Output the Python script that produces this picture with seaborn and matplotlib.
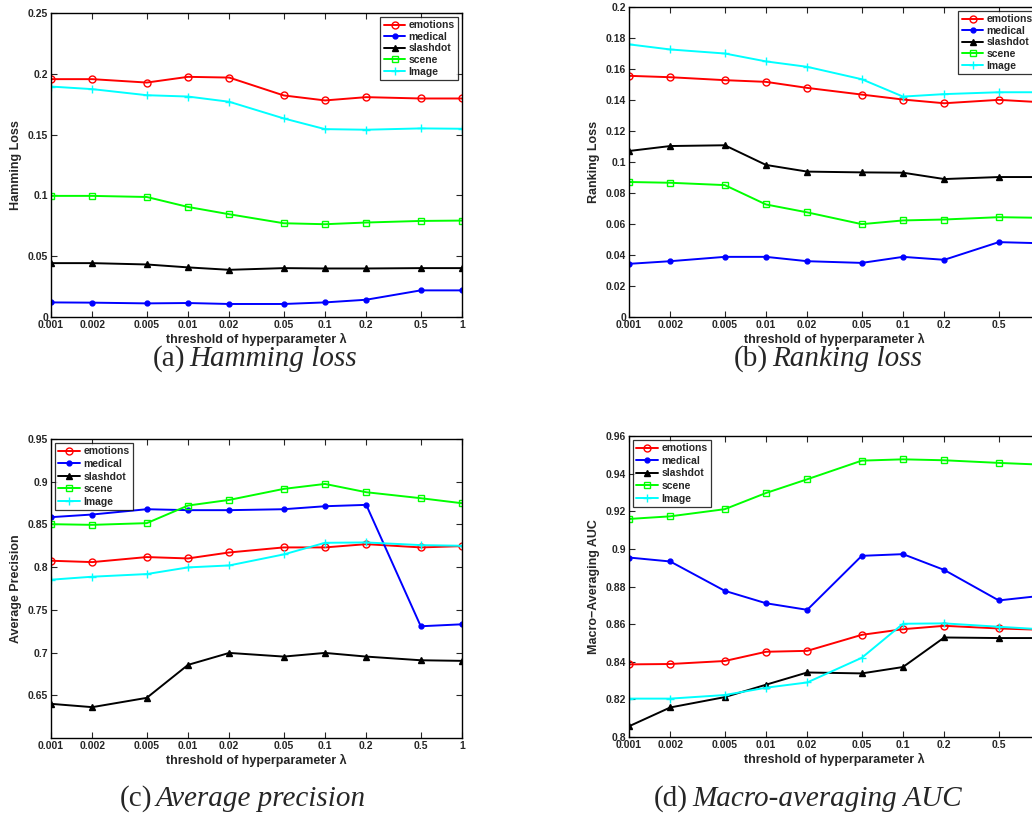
import numpy as np
import pandas as pd
import seaborn as sns
import matplotlib.pyplot as plt

lambdas = [0.001, 0.002, 0.005, 0.01, 0.02, 0.05, 0.1, 0.2, 0.5, 1.0]
tick_labels = ['0.001', '0.002', '0.005', '0.01', '0.02', '0.05', '0.1', '0.2', '0.5', '1']
datasets = ['emotions', 'medical', 'slashdot', 'scene', 'Image']

hamming_emotions = [0.1956, 0.1956, 0.1928, 0.1975, 0.1969, 0.1822, 0.1781, 0.1808, 0.1797, 0.1797]
hamming_medical = [0.0120, 0.0118, 0.0112, 0.0115, 0.0107, 0.0107, 0.0120, 0.0142, 0.0219, 0.0219]
hamming_slashdot = [0.0443, 0.0443, 0.0432, 0.0408, 0.0388, 0.0402, 0.0399, 0.0399, 0.0402, 0.0402]
hamming_scene = [0.0996, 0.0996, 0.0987, 0.0905, 0.0845, 0.0771, 0.0763, 0.0777, 0.0790, 0.0793]
hamming_image = [0.1895, 0.1874, 0.1824, 0.1813, 0.1770, 0.1633, 0.1545, 0.1540, 0.1551, 0.1548]

ranking_emotions = [0.1556, 0.1547, 0.1528, 0.1517, 0.1478, 0.1435, 0.1403, 0.1379, 0.1401, 0.1386]
ranking_medical = [0.0343, 0.0360, 0.0388, 0.0388, 0.0360, 0.0349, 0.0388, 0.0369, 0.0483, 0.0476]
ranking_slashdot = [0.1071, 0.1103, 0.1108, 0.0981, 0.0938, 0.0933, 0.0931, 0.0890, 0.0903, 0.0903]
ranking_scene = [0.0871, 0.0866, 0.0851, 0.0726, 0.0675, 0.0599, 0.0623, 0.0629, 0.0644, 0.0640]
ranking_image = [0.1759, 0.1726, 0.1700, 0.1649, 0.1614, 0.1534, 0.1422, 0.1438, 0.1450, 0.1450]

avgprec_emotions = [0.8075, 0.8059, 0.8118, 0.8102, 0.8172, 0.8231, 0.8231, 0.8269, 0.8231, 0.8246]
avgprec_medical = [0.8585, 0.8616, 0.8678, 0.8667, 0.8667, 0.8678, 0.8713, 0.8729, 0.7308, 0.7331]
avgprec_slashdot = [0.6400, 0.6361, 0.6470, 0.6856, 0.6996, 0.6953, 0.6996, 0.6953, 0.6910, 0.6903]
avgprec_scene = [0.8503, 0.8495, 0.8515, 0.8721, 0.8787, 0.8916, 0.8974, 0.8877, 0.8807, 0.8748]
avgprec_image = [0.7853, 0.7888, 0.7919, 0.7997, 0.8020, 0.8149, 0.8285, 0.8289, 0.8258, 0.8250]

auc_emotions = [0.8386, 0.8388, 0.8404, 0.8453, 0.8458, 0.8543, 0.8573, 0.8591, 0.8577, 0.8570]
auc_medical = [0.8954, 0.8933, 0.8777, 0.8711, 0.8676, 0.8963, 0.8972, 0.8888, 0.8726, 0.8750]
auc_slashdot = [0.8057, 0.8157, 0.8212, 0.8278, 0.8343, 0.8338, 0.8372, 0.8529, 0.8526, 0.8526]
auc_scene = [0.9159, 0.9173, 0.9211, 0.9297, 0.9370, 0.9469, 0.9476, 0.9471, 0.9457, 0.9448]
auc_image = [0.8204, 0.8204, 0.8223, 0.8262, 0.8290, 0.8421, 0.8602, 0.8604, 0.8586, 0.8573]

# MATLAB-ish line styles per dataset
styles = {
    'emotions': dict(color=(1, 0, 0), marker='o', mfc='none', ms=5),
    'medical': dict(color=(0, 0, 1), marker='.', mfc=(0, 0, 1), ms=7),
    'slashdot': dict(color=(0, 0, 0), marker='^', mfc=(0, 0, 0), ms=5),
    'scene': dict(color=(0, 1, 0), marker='s', mfc='none', ms=4.5),
    'Image': dict(color=(0, 1, 1), marker='+', mfc='none', ms=6),
}

sns.set_style('ticks')
plt.rcParams['font.family'] = ['Liberation Sans', 'DejaVu Sans']
plt.rcParams['font.weight'] = 'bold'

W, H = 1032, 821
fig = plt.figure(figsize=(W / 100, H / 100), dpi=100)


def px_axes(left, top, right, bottom):
    return fig.add_axes([left / W, 1 - bottom / H, (right - left) / W, (bottom - top) / H])


def draw_panel(ax, series, ylabel, ylim, yticks, yticklabels, legend_loc, spacing):
    for name, vals in zip(datasets, series):
        st = styles[name]
        sns.lineplot(x=lambdas, y=vals, ax=ax, label=name, errorbar=None,
                     color=st['color'], marker=st['marker'], markersize=st['ms'],
                     markerfacecolor=st['mfc'], markeredgecolor=st['color'],
                     markeredgewidth=1.0, linewidth=1.4)
    ax.set_xscale('log')
    ax.set_xlim(0.001, 1)
    ax.set_xticks(lambdas)
    ax.set_xticklabels(tick_labels)
    ax.minorticks_off()
    ax.set_ylim(*ylim)
    ax.set_yticks(yticks)
    ax.set_yticklabels(yticklabels)
    ax.tick_params(direction='in', top=True, right=True, length=4, width=0.8,
                   labelsize=7.5, pad=2)
    for lbl in ax.get_xticklabels() + ax.get_yticklabels():
        lbl.set_fontweight('bold')
    for sp in ax.spines.values():
        sp.set_linewidth(1.0)
        sp.set_color('black')
    ax.set_xlabel('threshold of hyperparameter λ', fontsize=9, fontweight='bold', labelpad=2)
    ax.set_ylabel(ylabel, fontsize=9, fontweight='bold', labelpad=4)
    leg = ax.legend(loc=legend_loc, frameon=True, fancybox=False,
                    handlelength=2.1, handletextpad=0.3, labelspacing=spacing,
                    borderpad=0.35, borderaxespad=0.35, prop={'weight': 'bold', 'size': 7.5})
    leg.get_frame().set_edgecolor('black')
    leg.get_frame().set_linewidth(0.9)


ax_a = px_axes(51, 13, 462, 317)
draw_panel(ax_a, [hamming_emotions, hamming_medical, hamming_slashdot, hamming_scene, hamming_image],
           'Hamming Loss', (0, 0.25), [0, 0.05, 0.1, 0.15, 0.2, 0.25],
           ['0', '0.05', '0.1', '0.15', '0.2', '0.25'], 'upper right', 0.15)

ax_b = px_axes(629, 7, 1040, 317)
draw_panel(ax_b, [ranking_emotions, ranking_medical, ranking_slashdot, ranking_scene, ranking_image],
           'Ranking Loss', (0, 0.2), [0, 0.02, 0.04, 0.06, 0.08, 0.1, 0.12, 0.14, 0.16, 0.18, 0.2],
           ['0', '0.02', '0.04', '0.06', '0.08', '0.1', '0.12', '0.14', '0.16', '0.18', '0.2'],
           'upper right', 0.15)

ax_c = px_axes(51, 439, 462, 738)
draw_panel(ax_c, [avgprec_emotions, avgprec_medical, avgprec_slashdot, avgprec_scene, avgprec_image],
           'Average Precision', (0.6, 0.95), [0.65, 0.7, 0.75, 0.8, 0.85, 0.9, 0.95],
           ['0.65', '0.7', '0.75', '0.8', '0.85', '0.9', '0.95'], 'upper left', 0.25)

ax_d = px_axes(629, 436, 1040, 737)
draw_panel(ax_d, [auc_emotions, auc_medical, auc_slashdot, auc_scene, auc_image],
           'Macro−Averaging AUC', (0.8, 0.96), [0.8, 0.82, 0.84, 0.86, 0.88, 0.9, 0.92, 0.94, 0.96],
           ['0.8', '0.82', '0.84', '0.86', '0.88', '0.9', '0.92', '0.94', '0.96'], 'upper left', 0.25)

# captions: upright tag + italic name, split x in pixels
captions = [('(a)', 'Hamming loss', 189, 359), ('(b)', 'Ranking loss', 772, 359),
            ('(c)', 'Average precision', 156, 799), ('(d)', 'Macro-averaging AUC', 692, 799)]
for tag, name, xs, yc in captions:
    fig.text((xs - 4) / W, 1 - yc / H, tag, ha='right', va='center', fontsize=21,
             family='Liberation Serif', fontweight='normal')
    fig.text(xs / W, 1 - yc / H, name, ha='left', va='center', fontsize=21,
             family='Liberation Serif', style='italic', fontweight='normal')

fig.savefig('out.png', dpi=100)
